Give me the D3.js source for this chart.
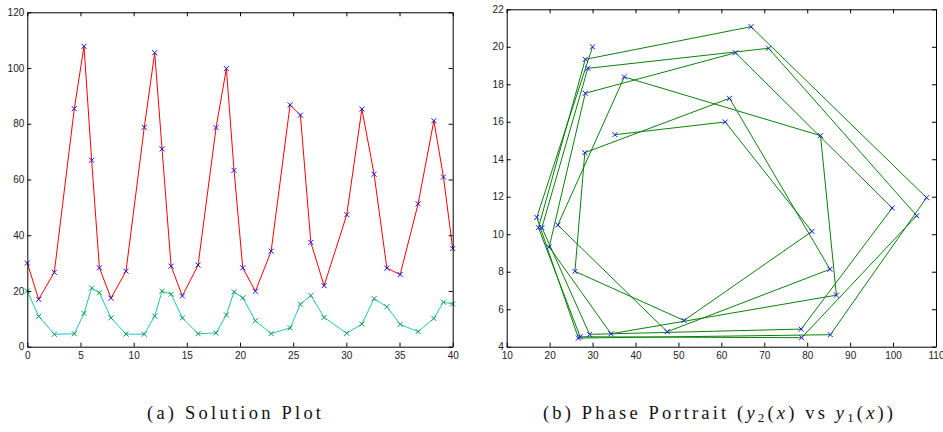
<!DOCTYPE html>
<html>
<head>
<meta charset="utf-8">
<script src="https://cdn.jsdelivr.net/npm/d3@7"></script>
<style>
  body { margin: 0; background: #fff; }
  svg { display: block; }
  .tick text { font-family: "Liberation Sans", Arial, sans-serif; font-size: 10px; fill: #222; }
  .caption { font-family: "Liberation Serif", "DejaVu Serif", serif; font-size: 18.5px; fill: #111; }
</style>
</head>
<body>
<svg width="943" height="432"></svg>
<script>
// solution samples (adaptive steps)
var xs = [0, 1.07, 2.54, 4.42, 5.33, 6.05, 6.78, 7.87, 9.28, 11.0, 11.98, 12.67, 13.52, 14.58, 16.06, 17.75, 18.72, 19.44,
          20.26, 21.45, 22.93, 24.71, 25.68, 26.66, 27.91, 30.04, 31.46, 32.61, 33.81, 35.06, 36.75, 38.23, 39.13, 40.0];
var y1 = [30.0, 17.0, 26.7, 85.4, 107.8, 66.9, 28.3, 17.4, 27.1, 78.7, 105.5, 71.0, 28.9, 18.2, 29.3, 78.6, 99.8, 63.3,
          28.3, 19.9, 34.3, 86.8, 83.1, 37.4, 21.9, 47.4, 85.3, 61.9, 28.2, 25.9, 51.3, 81.1, 60.9, 35.2];
var y2 = [20.0, 10.9, 4.46, 4.64, 11.95, 21.07, 19.33, 10.35, 4.53, 4.48, 10.99, 19.92, 18.85, 10.35, 4.66, 4.94, 11.4, 19.68,
          17.52, 9.32, 4.69, 6.75, 15.26, 18.39, 10.49, 4.8, 8.13, 17.25, 14.35, 8.02, 5.4, 10.15, 15.99, 15.31];

var solXTicks = [0, 5, 10, 15, 20, 25, 30, 35, 40];
var solYTicks = [0, 20, 40, 60, 80, 100, 120];
var phaseXTicks = [10, 20, 30, 40, 50, 60, 70, 80, 90, 100, 110];
var phaseYTicks = [4, 6, 8, 10, 12, 14, 16, 18, 20, 22];

var svg = d3.select("svg");

// draw a boxed axes with inward ticks, returns the group
function drawFrame(x, y, xt, yt) {
  var g = svg.append("g");
  var x0 = x.range()[0], x1 = x.range()[1], yb = y.range()[0], yt0 = y.range()[1];

  g.append("g")
      .attr("transform", "translate(0," + yb + ")")
      .call(d3.axisBottom(x).tickValues(xt).tickSizeInner(-4).tickSizeOuter(0).tickPadding(5));
  g.append("g")
      .attr("transform", "translate(0," + yt0 + ")")
      .call(d3.axisTop(x).tickValues(xt).tickSizeInner(-4).tickSizeOuter(0).tickFormat(""));
  g.append("g")
      .attr("transform", "translate(" + x0 + ",0)")
      .call(d3.axisLeft(y).tickValues(yt).tickSizeInner(-4).tickSizeOuter(0).tickPadding(3));
  g.append("g")
      .attr("transform", "translate(" + x1 + ",0)")
      .call(d3.axisRight(y).tickValues(yt).tickSizeInner(-4).tickSizeOuter(0).tickFormat(""));

  g.selectAll(".domain").attr("stroke", "#000");
  g.selectAll(".tick line").attr("stroke", "#000");
  return g;
}

function crosses(g, pts, color) {
  var s = 2.5;
  g.selectAll(null)
      .data(pts)
    .enter().append("path")
      .attr("d", function(d) {
        return "M" + (d[0] - s) + "," + (d[1] - s) + "L" + (d[0] + s) + "," + (d[1] + s) +
               "M" + (d[0] - s) + "," + (d[1] + s) + "L" + (d[0] + s) + "," + (d[1] - s);
      })
      .attr("stroke", color)
      .attr("stroke-width", 1)
      .attr("fill", "none");
}

// (a) solution plot
var xa = d3.scaleLinear().domain([0, 40]).range([27.3, 452.7]);
var ya = d3.scaleLinear().domain([0, 120]).range([346.7, 12.3]);

var ga = svg.append("g");
var lineA1 = d3.line().x(function(d, i) { return xa(xs[i]); }).y(function(d) { return ya(d); });

ga.append("path").datum(y1).attr("d", lineA1)
    .attr("fill", "none").attr("stroke", "#ff0000").attr("stroke-width", 1);
crosses(ga, y1.map(function(d, i) { return [xa(xs[i]), ya(d)]; }), "#1010ff");
ga.append("path").datum(y2).attr("d", lineA1)
    .attr("fill", "none").attr("stroke", "#1ec4c4").attr("stroke-width", 1);
crosses(ga, y2.map(function(d, i) { return [xa(xs[i]), ya(d)]; }), "#0c9a3c");
drawFrame(xa, ya, solXTicks, solYTicks);

// (b) phase portrait y2 vs y1
var xb = d3.scaleLinear().domain([10, 110]).range([506.7, 936]);
var yb = d3.scaleLinear().domain([4, 22]).range([346.7, 9.3]);

var gb = svg.append("g");
var lineB = d3.line().x(function(d, i) { return xb(y1[i]); }).y(function(d) { return yb(d); });
gb.append("path").datum(y2).attr("d", lineB)
    .attr("fill", "none").attr("stroke", "#0a800a").attr("stroke-width", 1);
crosses(gb, y2.map(function(d, i) { return [xb(y1[i]), yb(d)]; }), "#1010ff");
drawFrame(xb, yb, phaseXTicks, phaseYTicks);

// captions
svg.append("text")
    .attr("class", "caption")
    .attr("x", 147).attr("y", 419)
    .attr("textLength", 174).attr("lengthAdjust", "spacing")
    .text("(a) Solution Plot");

var cap = svg.append("text")
    .attr("class", "caption")
    .attr("x", 543).attr("y", 419)
    .attr("textLength", 350).attr("lengthAdjust", "spacing");
cap.append("tspan").text("(b) Phase Portrait (");
cap.append("tspan").attr("font-style", "italic").text("y");
cap.append("tspan").attr("font-size", "13px").attr("dy", 3).text("2");
cap.append("tspan").attr("dy", -3).text("(");
cap.append("tspan").attr("font-style", "italic").text("x");
cap.append("tspan").text(") vs ");
cap.append("tspan").attr("font-style", "italic").text("y");
cap.append("tspan").attr("font-size", "13px").attr("dy", 3).text("1");
cap.append("tspan").attr("dy", -3).text("(");
cap.append("tspan").attr("font-style", "italic").text("x");
cap.append("tspan").text("))");
</script>
</body>
</html>
